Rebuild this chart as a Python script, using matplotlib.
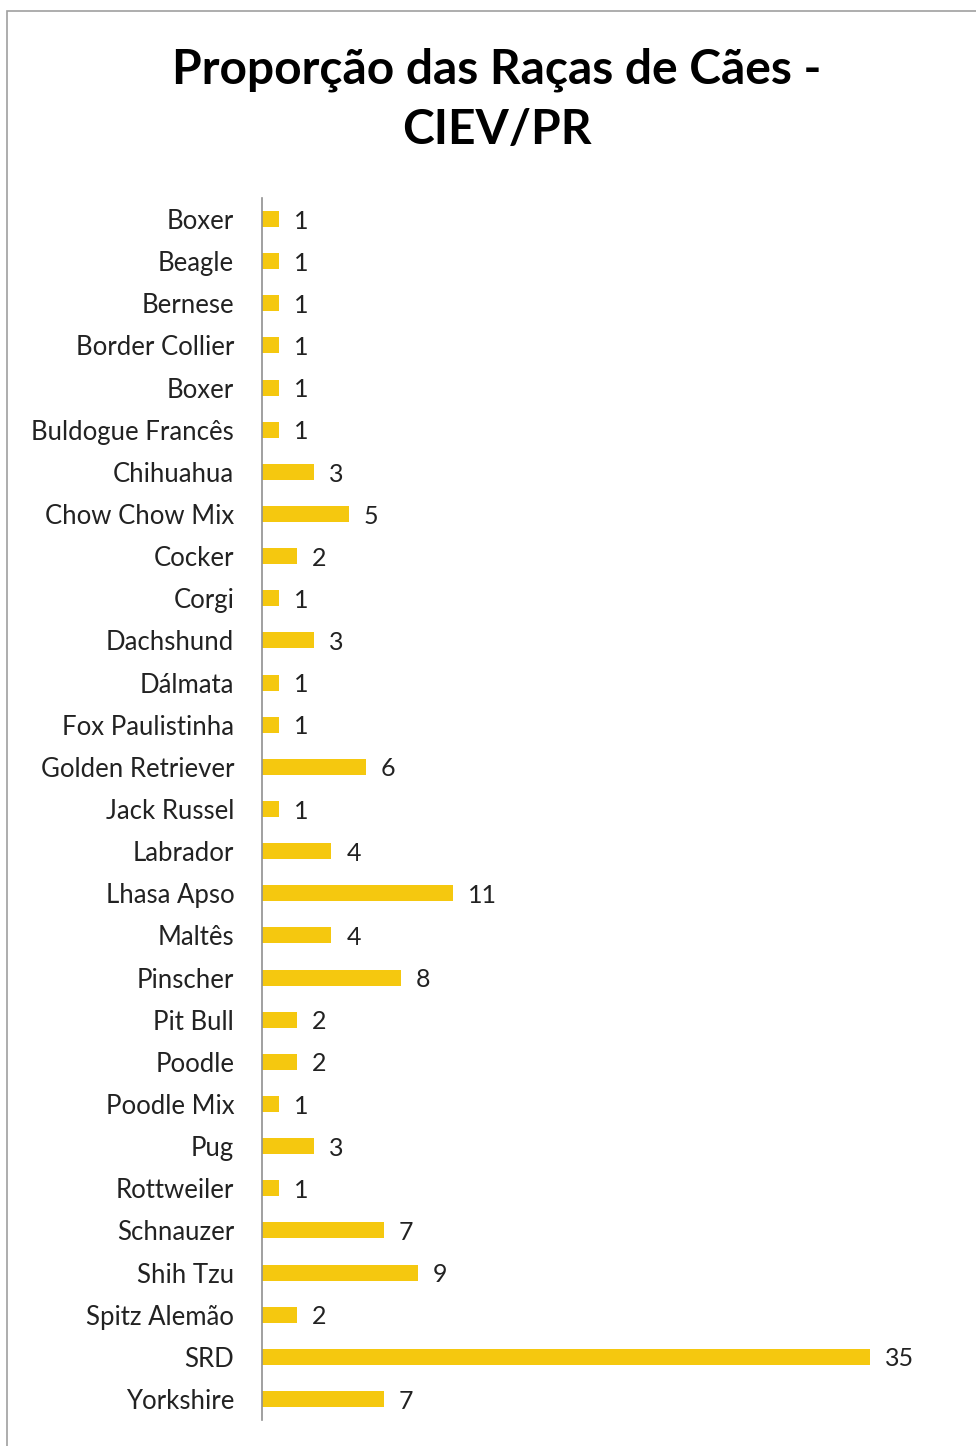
import matplotlib
matplotlib.use("Agg")
from matplotlib import pyplot as plt
from matplotlib.patches import Rectangle

racas = ['Boxer', 'Beagle', 'Bernese', 'Border Collier', 'Boxer', 'Buldogue Francês',
         'Chihuahua', 'Chow Chow Mix', 'Cocker', 'Corgi', 'Dachshund', 'Dálmata',
         'Fox Paulistinha', 'Golden Retriever', 'Jack Russel', 'Labrador', 'Lhasa Apso',
         'Maltês', 'Pinscher', 'Pit Bull', 'Poodle', 'Poodle Mix', 'Pug', 'Rottweiler',
         'Schnauzer', 'Shih Tzu', 'Spitz Alemão', 'SRD', 'Yorkshire']
quantidade = [1, 1, 1, 1, 1, 1, 3, 5, 2, 1, 3, 1, 1, 6, 1, 4, 11, 4, 8, 2, 2, 1, 3, 1,
              7, 9, 2, 35, 7]

plt.rcParams['font.family'] = ['Lato', 'DejaVu Sans']

fig = plt.figure(figsize=(9.76, 14.46), dpi=100)
# moldura cinza do gráfico
fig.patches.append(Rectangle((7 / 976, -0.01), 1.0, 1 - 11 / 1446 + 0.01,
                             transform=fig.transFigure, fill=False,
                             edgecolor='#a0a0a0', linewidth=1.2))

ax = fig.add_axes([262 / 976, 1 - 1420 / 1446, (1 - 262 / 976), (1420 - 198) / 1446])
pos = list(range(len(racas)))
ax.barh(pos, quantidade, height=0.38, color='#F5C80F')
for p, q in zip(pos, quantidade):
    ax.text(q + 0.85, p + 0.05, str(q), va='center', ha='left', fontsize=18,
            color='#222222')

ax.set_ylim(len(racas) - 0.5, -0.5)
ax.set_xlim(0, 714 / 17.37)
ax.set_yticks(pos)
ax.set_yticklabels(racas, fontsize=18.5, color='#222222')
ax.tick_params(axis='y', length=0, pad=20)
ax.set_xticks([])
for s in ['top', 'right', 'bottom']:
    ax.spines[s].set_visible(False)
ax.spines['left'].set_color('#909090')
ax.spines['left'].set_linewidth(1.2)

fig.text(497 / 976, 1 - 100 / 1446, 'Proporção das Raças de Cães -\nCIEV/PR',
         ha='center', va='center', fontsize=34.5, fontweight='bold',
         linespacing=1.45)

fig.savefig('out.png', dpi=100)
